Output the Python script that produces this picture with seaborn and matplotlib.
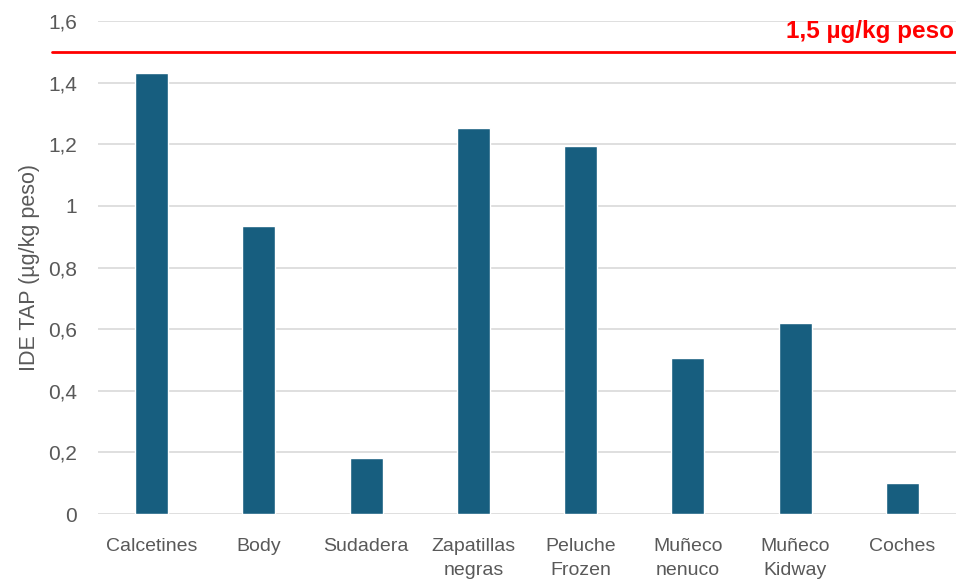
import matplotlib
matplotlib.use('Agg')
import matplotlib.pyplot as plt
import matplotlib.ticker as mticker
import seaborn as sns

categories = ['Calcetines', 'Body', 'Sudadera', 'Zapatillas\nnegras', 'Peluche\nFrozen',
              'Muñeco\nnenuco', 'Muñeco\nKidway', 'Coches']
ide_tap = [1.43, 0.935, 0.182, 1.253, 1.195, 0.506, 0.62, 0.10]
limit_value = 1.5
limit_label = '1,5 µg/kg peso'
y_ticks = [0, 0.2, 0.4, 0.6, 0.8, 1.0, 1.2, 1.4, 1.6]

sns.set_theme(style='white')
plt.rcParams['font.family'] = ['Liberation Sans', 'DejaVu Sans']

fig = plt.figure(figsize=(9.56, 5.84), dpi=100)
ax = fig.add_axes([98 / 956, 1 - 514 / 584, 858 / 956, (514 - 21) / 584])

sns.barplot(x=categories, y=ide_tap, color='#175E7F', width=0.31, saturation=1, ax=ax, zorder=3)

ax.set_ylim(0, 1.6)
ax.set_yticks(y_ticks)
ax.yaxis.set_major_formatter(mticker.FuncFormatter(
    lambda v, _: ('%g' % round(v, 1)).replace('.', ',')))
ax.grid(axis='y', color='#D9D9D9', linewidth=1.2, zorder=0)
ax.grid(axis='x', visible=False)
for s in ax.spines.values():
    s.set_visible(False)
ax.tick_params(axis='both', length=0, colors='#595959')
ax.tick_params(axis='y', labelsize=15, pad=15)
for lbl in ax.get_xticklabels():
    lbl.set_fontsize(14)
    lbl.set_linespacing(1.55)
ax.tick_params(axis='x', pad=17)

ax.set_ylabel('IDE TAP (µg/kg peso)', fontsize=15.5, color='#595959', labelpad=6)
ax.set_xlabel('')

# limit line
ax.axhline(limit_value, xmin=-46 / 858, xmax=1.0, color='#FF0000', linewidth=2, clip_on=False, zorder=4)
ax.text(0.998, limit_value + 0.03, limit_label, transform=ax.get_yaxis_transform(),
        ha='right', va='bottom', color='#FF0000', fontsize=17.5, fontweight='bold')

fig.savefig('out.png', dpi=100)
